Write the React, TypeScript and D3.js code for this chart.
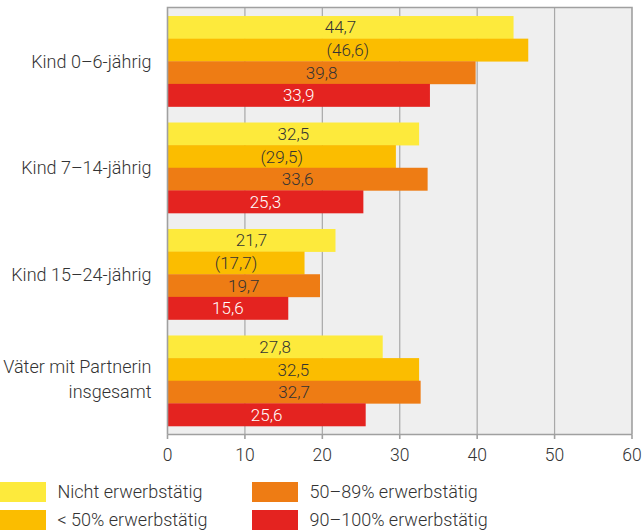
import React, { useEffect, useRef } from 'react';
import * as d3 from 'd3';

const categories = ['Kind 0–6-jährig', 'Kind 7–14-jährig', 'Kind 15–24-jährig', 'Väter mit Partnerin\ninsgesamt'];
const seriesNames = ['Nicht erwerbstätig', '< 50% erwerbstätig', '50–89% erwerbstätig', '90–100% erwerbstätig'];
const seriesColors = ['#fdea3c', '#fbbd00', '#ee7c14', '#e42320'];
const labelColors = ['#333333', '#333333', '#333333', '#ffffff'];
const nicht = [44.7, 32.5, 21.7, 27.8];
const unter50 = [46.6, 29.5, 17.7, 32.5];
const mittel = [39.8, 33.6, 19.7, 32.7];
const voll = [33.9, 25.3, 15.6, 25.6];
// small-sample estimates are shown in brackets
const unter50Bracketed = [true, true, true, false];
const xTicks = [0, 10, 20, 30, 40, 50, 60];

export default function App() {
  const svgRef = useRef<SVGSVGElement>(null);

  useEffect(() => {
    if (!svgRef.current) return;
    const svg = d3.select(svgRef.current);
    svg.selectAll('*').remove();

    const left = 167.5, right = 632, top = 7.5, bottom = 434.5;
    const font = 'Roboto, sans-serif';
    const values = [nicht, unter50, mittel, voll];

    const x = d3.scaleLinear().domain([0, 60]).range([left, right]);
    const y0 = d3.scaleBand<number>().domain(d3.range(categories.length))
      .range([top, bottom]).paddingInner(0.15).paddingOuter(0.08);
    const y1 = d3.scaleBand<number>().domain(d3.range(seriesNames.length)).range([0, y0.bandwidth()]);

    svg.append('rect')
      .attr('x', left).attr('y', top)
      .attr('width', right - left).attr('height', bottom - top)
      .attr('fill', '#efefef');

    svg.selectAll('.grid')
      .data(xTicks.slice(1, -1))
      .enter().append('line')
      .attr('x1', d => x(d)).attr('x2', d => x(d))
      .attr('y1', top).attr('y2', bottom)
      .attr('stroke', '#a8a8a8').attr('stroke-width', 1.2);

    categories.forEach((c, ci) => {
      const g = svg.append('g').attr('transform', `translate(0,${y0(ci)})`);
      values.forEach((arr, si) => {
        const v = arr[ci];
        g.append('rect')
          .attr('x', x(0)).attr('y', y1(si)!)
          .attr('width', x(v) - x(0)).attr('height', y1.bandwidth() + 0.3)
          .attr('fill', seriesColors[si]);
        const txt = v.toFixed(1).replace('.', ',');
        g.append('text')
          .attr('x', (x(0) + x(v)) / 2)
          .attr('y', y1(si)! + y1.bandwidth() / 2)
          .attr('dy', '0.36em')
          .attr('text-anchor', 'middle')
          .attr('font-family', font).attr('font-weight', 300)
          .attr('font-size', 17)
          .attr('fill', labelColors[si])
          .text(si === 1 && unter50Bracketed[ci] ? `(${txt})` : txt);
      });

      const lines = c.split('\n');
      const cy = y0(ci)! + y0.bandwidth() / 2 - (lines.length > 1 ? 1.5 : 0);
      lines.forEach((l, li) => {
        svg.append('text')
          .attr('x', 151.5)
          .attr('y', cy + (li - (lines.length - 1) / 2) * 24.5)
          .attr('dy', '0.36em')
          .attr('text-anchor', 'end')
          .attr('font-family', font).attr('font-weight', 300)
          .attr('font-size', 18)
          .attr('fill', '#333')
          .text(l);
      });
    });

    // frame
    svg.append('path')
      .attr('d', `M${left},${bottom}V${top}H${right}V${bottom}`)
      .attr('fill', 'none').attr('stroke', '#a0a0a0').attr('stroke-width', 1.6);
    svg.append('line')
      .attr('x1', left).attr('x2', right).attr('y1', bottom).attr('y2', bottom)
      .attr('stroke', '#a0a0a0').attr('stroke-width', 1.6);

    const axis = svg.append('g');
    xTicks.forEach(t => {
      axis.append('line')
        .attr('x1', x(t)).attr('x2', x(t))
        .attr('y1', bottom).attr('y2', bottom + 4.5)
        .attr('stroke', '#a0a0a0').attr('stroke-width', 1.6);
      axis.append('text')
        .attr('x', x(t)).attr('y', 455)
        .attr('dy', '0.36em')
        .attr('text-anchor', 'middle')
        .attr('font-family', font).attr('font-weight', 300)
        .attr('font-size', 17.5).attr('fill', '#333')
        .text(t);
    });

    const legendPos = [[0, 482], [0, 510], [252, 482], [252, 510]];
    seriesNames.forEach((s, i) => {
      const [lx, ly] = legendPos[i];
      svg.append('rect')
        .attr('x', lx).attr('y', ly).attr('width', 46).attr('height', 20)
        .attr('fill', seriesColors[i]);
      svg.append('text')
        .attr('x', lx + 57.5).attr('y', ly + 10)
        .attr('dy', '0.36em')
        .attr('font-family', font).attr('font-weight', 300)
        .attr('font-size', 18).attr('fill', '#333')
        .text(s);
    });
  }, []);

  return (
    <div style={{ position: 'absolute', left: 0, top: 0 }}>
      <svg ref={svgRef} width={643} height={530} style={{ display: 'block' }} />
    </div>
  );
}
